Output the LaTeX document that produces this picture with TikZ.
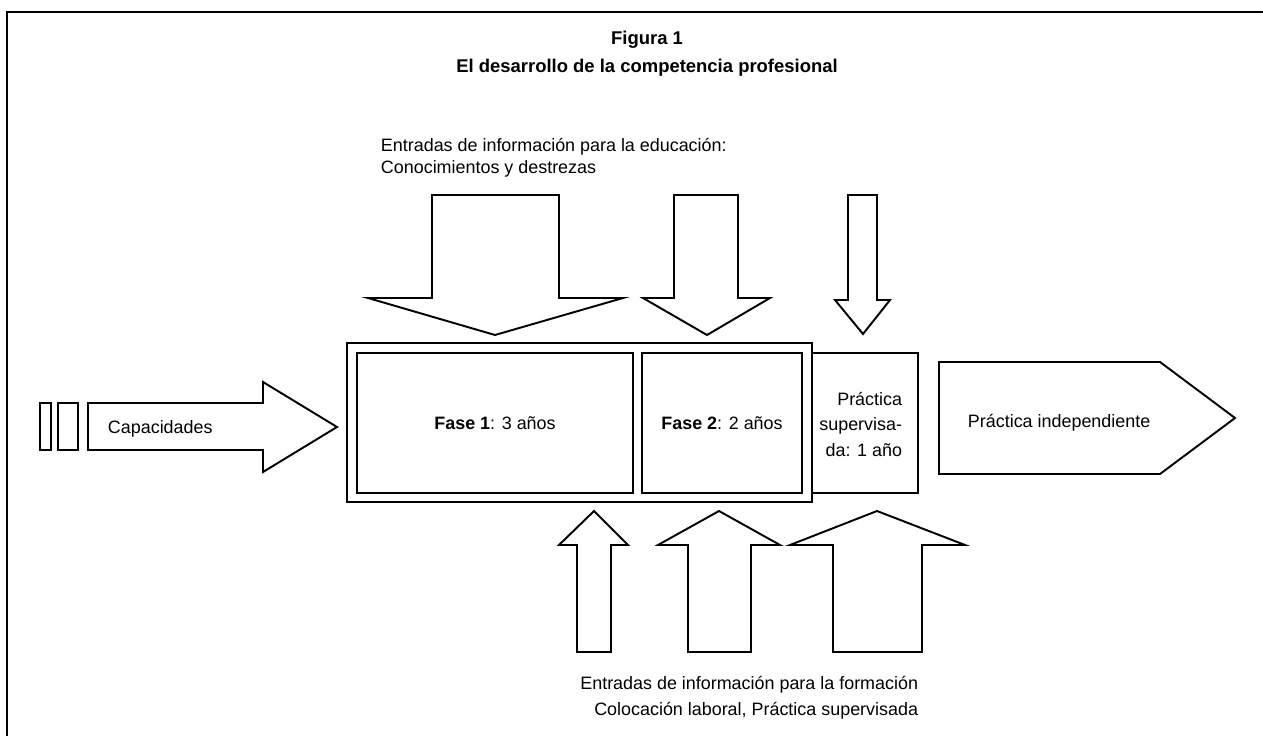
\documentclass[tikz,border=0pt]{standalone}
\usepackage{fontspec}
\setmainfont{Liberation Sans}
\usetikzlibrary{positioning}
\tikzset{
  blk/.style={draw,line width=1.1pt,line join=miter},
  fasebox/.style={draw,line width=1.2pt,inner sep=0pt},
  lbl/.style={inner sep=0pt,font=\fontsize{10.2}{12.5}\selectfont},
}
\begin{document}
\begin{tikzpicture}[x=0.02cm,y=-0.02cm,line width=1.1pt]
  \useasboundingbox (0,0) rectangle (1263,736);
  \draw[line width=1.6pt] (7,760) |- (1290,12); %marco

  % titulo
  \node[lbl,anchor=base,font=\bfseries\fontsize{10.5}{12.5}\selectfont] (fig) at (647,45) {Figura 1};
  \node[lbl,anchor=base,font=\bfseries\fontsize{10.5}{12.5}\selectfont] (titulo) at (647,73) {El desarrollo de la competencia profesional};

  % entradas de arriba
  \node[lbl,anchor=base west] (edu1) at (380,152) {Entradas de información para la educación:};
  \node[lbl,anchor=base west] (edu2) at (380,174) {Conocimientos y destrezas};
  \draw[blk] (432,195) -- (559,195) -- (559,298) -- (623,298) -- (495,335) -- (368,298) -- (432,298) -- cycle; %baja1
  \draw[blk] (674,195) -- (738,195) -- (738,298) -- (770,298) -- (707,335) -- (643,298) -- (674,298) -- cycle; %baja2
  \draw[blk] (848,195) -- (877,195) -- (877,300) -- (890,300) -- (863,334) -- (835,300) -- (848,300) -- cycle; %baja3

  % capacidades
  \path (45.5,426.5) node[fasebox,line width=1.1pt,minimum width=.22cm,minimum height=.94cm] (bar1) {};
  \path (68,426.5) node[fasebox,line width=1.1pt,minimum width=.4cm,minimum height=.94cm] (bar2) {};
  \draw[blk] (88,403) -- (263,403) -- (263,382) -- (337,427) -- (263,472) -- (263,450) -- (88,450) -- cycle; %cap
  \node[lbl,anchor=base west] (cap) at (107,433) {Capacidades};

  % fases
  \path (579.5,422.5) node[fasebox,minimum width=9.3cm,minimum height=3.18cm] (marco) {};
  \path (495,423) node[fasebox,minimum width=5.52cm,minimum height=2.8cm,font=\fontsize{10.2}{12.5}\selectfont] (fase1) {\textbf{Fase 1}: 3 años};
  \path (722,423) node[fasebox,minimum width=3.2cm,minimum height=2.8cm,font=\fontsize{10.2}{12.5}\selectfont] (fase2) {\textbf{Fase 2}: 2 años};
  \path (865,423) node[fasebox,line width=1.1pt,minimum width=2.12cm,minimum height=2.8cm] (practica) {};
  \node[lbl,anchor=north east,align=right,font=\fontsize{10.2}{14.5}\selectfont] (ptxt) at (903,391) {Práctica\\supervisa-\\da: 1 año};

  % practica independiente
  \draw[blk] (939,362) -- (1160,362) -- (1235,418) -- (1160,474) -- (939,474) -- cycle; %indep
  \node[lbl,anchor=base west] (indep) at (967,427) {Práctica independiente};

  % entradas de abajo
  \draw[blk] (577,652) -- (577,545) -- (559,545) -- (594,511) -- (628,545) -- (611,545) -- (611,652) -- cycle; %sube1
  \draw[blk] (688,652) -- (688,545) -- (658,545) -- (719,511) -- (780,545) -- (751,545) -- (751,652) -- cycle; %sube2
  \draw[blk] (833,652) -- (833,545) -- (790,545) -- (877,511) -- (965,545) -- (922,545) -- (922,652) -- cycle; %sube3
  \node[lbl,anchor=base east] (form1) at (919,689) {Entradas de información para la formación};
  \node[lbl,anchor=base east] (form2) at (919,715) {Colocación laboral, Práctica supervisada};
\end{tikzpicture}
\end{document}
